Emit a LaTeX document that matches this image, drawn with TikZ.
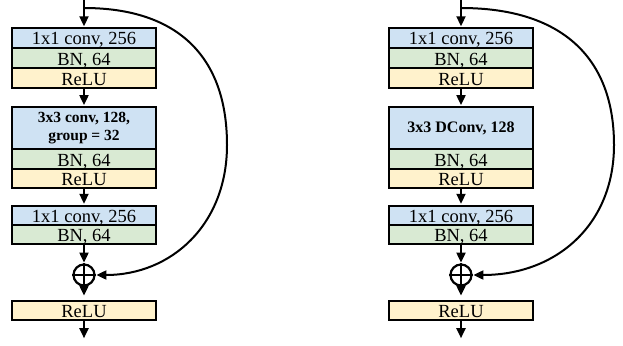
\documentclass[tikz,border=0pt]{standalone}
\usepackage{fontspec}
\setmainfont{Liberation Serif}
\usetikzlibrary{arrows.meta}
\definecolor{convblue}{HTML}{CFE2F3}
\definecolor{bngreen}{HTML}{D9EAD3}
\definecolor{reluyellow}{HTML}{FFF2CC}

\begin{document}
\begin{tikzpicture}[x=1pt,y=-1pt,
	layer/.style={draw,rectangle,line width=2.2pt,inner sep=0pt,minimum width=144pt,minimum height=19.6pt},
	oneline/.style={layer,font=\fontsize{18.5}{20}\selectfont,text height=14pt,text depth=0pt},
	conv/.style={oneline,fill=convblue},
	bn/.style={oneline,fill=bngreen},
	relu/.style={oneline,fill=reluyellow},
	bigconv/.style={layer,fill=convblue,minimum height=42pt,align=center,font=\fontsize{15.5}{18.3}\selectfont\bfseries},
	add/.style={draw,circle,line width=2.2pt,minimum size=21pt,inner sep=0pt},
	flow/.style={line width=2pt,-{Triangle[length=10pt,width=9pt]},shorten >=0.8pt}]
	\useasboundingbox (0,0) rectangle (623,345);
	
	%left block
	\coordinate (inl) at (84,0);
	\coordinate (splitl) at (84,8);
	\node[conv] (conval) at (84,38){1x1 conv, 256};
	\node[bn] (bnal) at (84,58){BN, 64};
	\node[relu] (relual) at (84,78){ReLU};
	\node[bigconv] (convbl) at (84,128){3x3 conv, 128,\\group = 32};
	\node[bn] (bnbl) at (84,159){BN, 64};
	\node[relu] (relubl) at (84,178.5){ReLU};
	\node[conv] (convcl) at (84,215.5){1x1 conv, 256};
	\node[bn] (bncl) at (84,234.5){BN, 64};
	\node[add] (addl) at (84,275){};
	\node[relu] (reluol) at (84,310.5){ReLU};
	\coordinate (outl) at (84,339);
	
	%right block
	\coordinate (inr) at (461,0);
	\coordinate (splitr) at (461,8);
	\node[conv] (convar) at (461,38){1x1 conv, 256};
	\node[bn] (bnar) at (461,58){BN, 64};
	\node[relu] (reluar) at (461,78){ReLU};
	\node[bigconv,font=\fontsize{16}{18}\selectfont\bfseries] (convbr) at (461,128){3x3 DConv, 128};
	\node[bn] (bnbr) at (461,159){BN, 64};
	\node[relu] (relubr) at (461,178.5){ReLU};
	\node[conv] (convcr) at (461,215.5){1x1 conv, 256};
	\node[bn] (bncr) at (461,234.5){BN, 64};
	\node[add] (addr) at (461,275){};
	\node[relu] (reluor) at (461,310.5){ReLU};
	\coordinate (outr) at (461,339);
	
	%plus signs
	\draw[line width=2pt] (addl.north) -- (addl.south) (addl.west) -- (addl.east);
	\draw[line width=2pt] (addr.north) -- (addr.south) (addr.west) -- (addr.east);
	
	%edges
	\draw[flow] (inl) -- (conval);
	\draw[flow] (relual) -- (convbl);
	\draw[flow] (relubl) -- (convcl);
	\draw[flow] (bncl) -- (addl);
	\draw[flow,shorten >=4pt] (addl.south) -- (reluol);
	\draw[flow] (reluol) -- (outl);
	\draw[flow] (splitl) .. controls (177,8) and (227,56) .. (227,145)
		.. controls (227,225) and (171,275) .. (addl.east);
	
	\draw[flow] (inr) -- (convar);
	\draw[flow] (reluar) -- (convbr);
	\draw[flow] (relubr) -- (convcr);
	\draw[flow] (bncr) -- (addr);
	\draw[flow,shorten >=4pt] (addr.south) -- (reluor);
	\draw[flow] (reluor) -- (outr);
	\draw[flow] (splitr) .. controls (560,8) and (614,56) .. (614,145)
		.. controls (614,225) and (556,275) .. (addr.east);
\end{tikzpicture}
\end{document}
